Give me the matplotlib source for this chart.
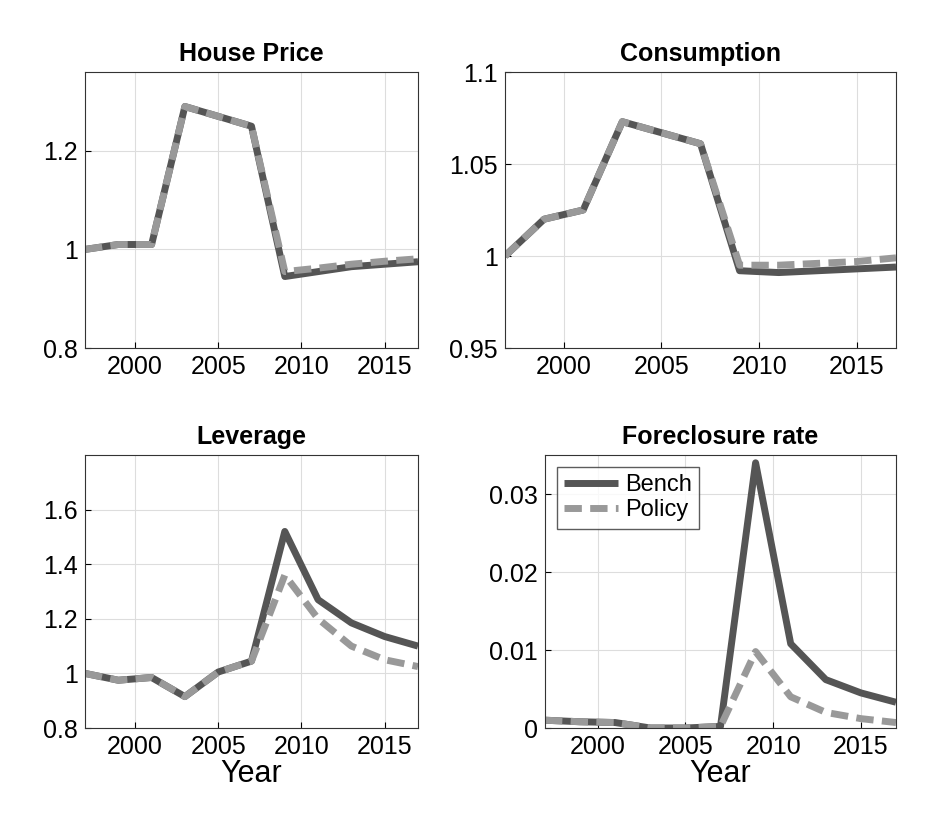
import matplotlib
matplotlib.use("Agg")
import matplotlib.pyplot as plt

plt.rcParams['font.family'] = ['Liberation Sans', 'DejaVu Sans']

years = [1997, 1999, 2001, 2003, 2005, 2007, 2009, 2011, 2013, 2015, 2017]
hp_bench = [1.0, 1.01, 1.01, 1.29, 1.27, 1.25, 0.945, 0.955, 0.965, 0.97, 0.975]
hp_policy = [1.0, 1.01, 1.01, 1.29, 1.27, 1.25, 0.955, 0.962, 0.97, 0.976, 0.981]
c_bench = [1.0, 1.02, 1.025, 1.073, 1.067, 1.061, 0.992, 0.991, 0.992, 0.993, 0.994]
c_policy = [1.0, 1.02, 1.025, 1.073, 1.067, 1.061, 0.995, 0.995, 0.996, 0.997, 0.999]
lev_bench = [1.0, 0.975, 0.985, 0.915, 1.005, 1.045, 1.52, 1.27, 1.185, 1.135, 1.1]
lev_policy = [1.0, 0.975, 0.985, 0.915, 1.005, 1.045, 1.36, 1.2, 1.1, 1.05, 1.025]
fc_bench = [0.001, 0.0008, 0.0007, 0.0, 0.0, 0.0002, 0.034, 0.0108, 0.0062, 0.0045, 0.0033]
fc_policy = [0.001, 0.0008, 0.0007, 0.0, 0.0, 0.0002, 0.0098, 0.004, 0.002, 0.0012, 0.0007]

W, H = 948, 833
fig = plt.figure(figsize=(W/100, H/100), dpi=100)

def mk(l, t, r, b):
    return fig.add_axes([l/W, 1-b/H, (r-l)/W, (b-t)/H])

panels = [
    (mk(85, 72, 418, 348), hp_bench, hp_policy, 'House Price', (0.8, 1.36), [0.8, 1, 1.2], ['0.8', '1', '1.2']),
    (mk(505, 72, 896, 348), c_bench, c_policy, 'Consumption', (0.95, 1.1), [0.95, 1, 1.05, 1.1], ['0.95', '1', '1.05', '1.1']),
    (mk(85, 455, 418, 728), lev_bench, lev_policy, 'Leverage', (0.8, 1.8), [0.8, 1, 1.2, 1.4, 1.6], ['0.8', '1', '1.2', '1.4', '1.6']),
    (mk(545, 455, 896, 728), fc_bench, fc_policy, 'Foreclosure rate', (0, 0.035), [0, 0.01, 0.02, 0.03], ['0', '0.01', '0.02', '0.03']),
]

for i, (ax, b, p, title, yl, yt, ytl) in enumerate(panels):
    ax.plot(years, b, color='#555555', lw=5, label='Bench', solid_capstyle='butt')
    ax.plot(years, p, color='#999999', lw=5, ls=(0, (2.5, 1.2)), label='Policy', dash_capstyle='butt')
    ax.set_xlim(1997, 2017)
    ax.set_ylim(*yl)
    ax.set_xticks([2000, 2005, 2010, 2015])
    ax.set_yticks(yt)
    ax.set_yticklabels(ytl)
    ax.tick_params(labelsize=18, direction='in', length=4, pad=5)
    ax.grid(True, color='#dddddd', lw=0.8)
    ax.set_title(title, fontsize=18, fontweight='bold', pad=8)
    for s in ax.spines.values():
        s.set_color('#333333')
    if i >= 2:
        ax.set_xlabel('Year', fontsize=22, labelpad=0)
    if i == 3:
        ax.legend(loc='upper left', fontsize=17, frameon=True, fancybox=False,
                  edgecolor='#333333', handlelength=2.3, borderaxespad=0.5,
                  labelspacing=0.15, handletextpad=0.3, borderpad=0.3)

fig.savefig('out.png', dpi=100, facecolor='white')
